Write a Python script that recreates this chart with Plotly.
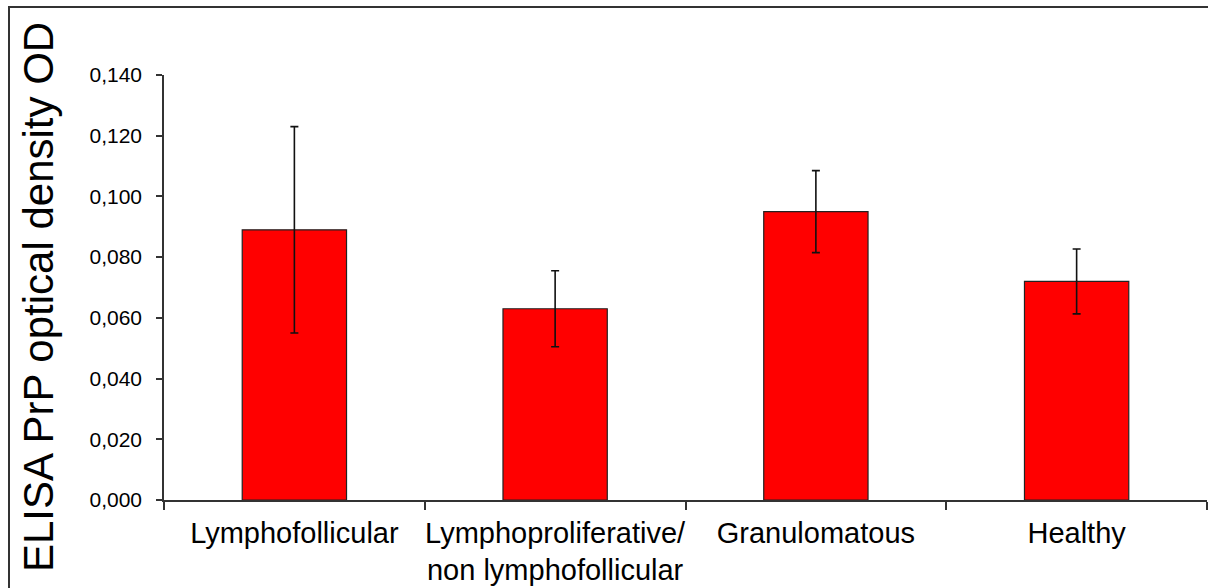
import plotly.graph_objects as go

categories = ["Lymphofollicular", "Lymphoproliferative/<br>non lymphofollicular", "Granulomatous", "Healthy"]
values = [0.089, 0.063, 0.095, 0.072]
errors = [0.034, 0.0125, 0.0135, 0.0107]
y_ticks = [0.0, 0.02, 0.04, 0.06, 0.08, 0.10, 0.12, 0.14]
y_tick_labels = ["0,000", "0,020", "0,040", "0,060", "0,080", "0,100", "0,120", "0,140"]
y_title = "ELISA PrP optical density OD"

W, H = 1208, 588
ML, MR, MT, MB = 164, 1, 75, 88
PW = W - ML - MR
PH = H - MT - MB

def px_x(px):
    return (px - ML) / PW

def px_y(py):
    return (H - MB - py) / PH

FONT = "Arial, 'Liberation Sans', sans-serif"

fig = go.Figure()
fig.add_trace(go.Bar(
    x=categories, y=values, width=0.4,
    marker=dict(color="#FF0000", line=dict(color="#222222", width=1.2)),
    error_y=dict(type="data", array=errors, visible=True, color="#111111", thickness=1.6, width=4),
    showlegend=False, hoverinfo="skip",
))

fig.update_layout(
    width=W, height=H,
    margin=dict(l=ML, r=MR, t=MT, b=MB, pad=0, autoexpand=False),
    paper_bgcolor="white", plot_bgcolor="white",
    font=dict(family=FONT, color="black"),
    bargap=0.6,
)
fig.update_xaxes(
    type="category", tickson="boundaries", ticks="outside", ticklen=8, tickwidth=1.5,
    tickcolor="#333333", showline=True, linecolor="#333333", linewidth=1.5,
    showgrid=False, tickfont=dict(size=29, family=FONT, color="black"),
    ticklabelstandoff=6, tickangle=0, automargin=False,
    range=[-0.5, 3.5], fixedrange=True,
)
fig.update_yaxes(
    range=[0, 0.14], tickvals=y_ticks, ticktext=y_tick_labels,
    ticks="outside", ticklen=6, tickwidth=1.5, tickcolor="#333333",
    showline=True, linecolor="#333333", linewidth=1.5, showgrid=False, zeroline=False,
    tickfont=dict(size=21, family=FONT, color="black"), ticklabelstandoff=10,
    automargin=False, fixedrange=True,
)

fig.add_annotation(
    x=px_x(38), y=px_y(297), xref="paper", yref="paper", text=y_title,
    textangle=-90, showarrow=False, font=dict(size=42, family=FONT, color="black"),
    xanchor="center", yanchor="middle",
)

# frame lines (top and left)
fig.add_shape(type="line", xref="paper", yref="paper",
              x0=px_x(8), x1=px_x(W + 5), y0=px_y(7), y1=px_y(7),
              line=dict(color="#333333", width=2))
fig.add_shape(type="line", xref="paper", yref="paper",
              x0=px_x(9), x1=px_x(9), y0=px_y(6), y1=px_y(H + 5),
              line=dict(color="#333333", width=2))

fig.write_html(
    "out.html",
    config={"displayModeBar": False},
    post_script="document.body.style.margin='0';document.body.style.overflow='hidden';",
)
